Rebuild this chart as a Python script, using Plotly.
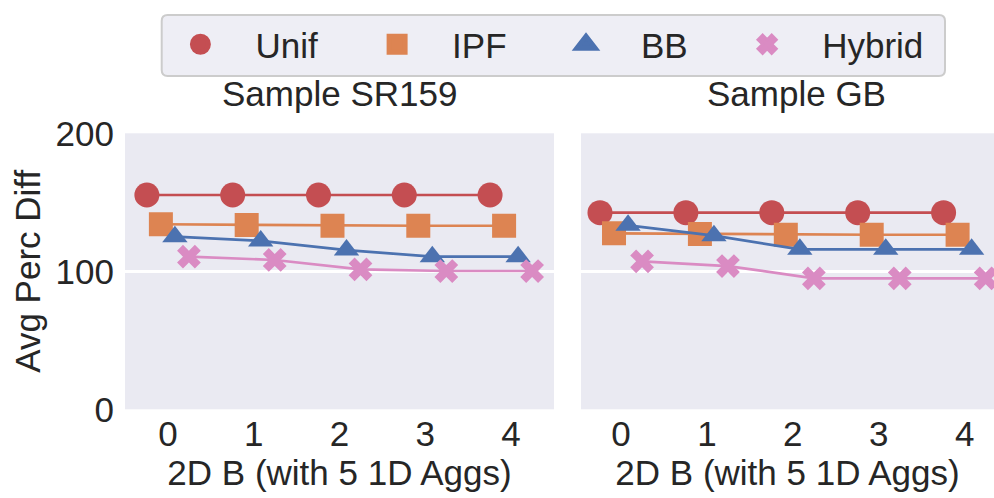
import plotly.graph_objects as go

# Number of 2D aggregates (x axis categories)
budgets = [0, 1, 2, 3, 4]
tick_labels = ["0", "1", "2", "3", "4"]

methods = ["Unif", "IPF", "BB", "Hybrid"]

# Average percent difference, sample SR159
sr159_unif = [155.3, 155.3, 155.3, 155.3, 155.3]
sr159_ipf = [134.1, 133.6, 133.0, 133.0, 133.0]
sr159_bb = [125.1, 122.0, 115.4, 110.6, 110.6]
sr159_hybrid = [110.6, 108.2, 101.4, 100.2, 100.2]

# Average percent difference, sample GB
gb_unif = [142.5, 142.5, 142.5, 142.5, 142.5]
gb_ipf = [127.5, 127.0, 126.5, 126.5, 126.5]
gb_bb = [133.3, 125.8, 115.9, 115.9, 115.9]
gb_hybrid = [107.2, 103.8, 94.9, 94.9, 94.9]

panels = [
    ("Sample SR159", [sr159_unif, sr159_ipf, sr159_bb, sr159_hybrid]),
    ("Sample GB", [gb_unif, gb_ipf, gb_bb, gb_hybrid]),
]

colors = ["#C44E52", "#DD8452", "#4C72B0", "#DA8BC3"]
symbols = ["circle", "square", "triangle-up", "x"]
sizes = [25, 24, 22, 21]
dodge = [-0.245, -0.0817, 0.0817, 0.245]

FONT = "Liberation Sans, Arial, sans-serif"
FS = 35
TXT = "#262626"
W, H = 994, 498

fig = go.Figure()

for p, (title, series) in enumerate(panels):
    xa = "x" if p == 0 else "x2"
    ya = "y" if p == 0 else "y2"
    for i, vals in enumerate(series):
        fig.add_trace(go.Scatter(
            x=[b + dodge[i] for b in budgets], y=vals,
            mode="lines+markers", xaxis=xa, yaxis=ya,
            line=dict(color=colors[i], width=2.7),
            marker=dict(symbol=symbols[i], size=sizes[i], color=colors[i],
                        line=dict(width=0)),
            name=methods[i], showlegend=False,
        ))

# legend entries (markers only)
NB = "\u00a0"
for i, m in enumerate(methods):
    trail = NB * 5 + "\u2006" if i < len(methods) - 1 else ""
    lw = 3 if symbols[i] == "x" else 5
    fig.add_trace(go.Scatter(
        x=[None], y=[None], mode="markers",
        marker=dict(symbol=symbols[i], size=16, color=colors[i],
                    line=dict(width=lw, color=colors[i])),
        name=NB * 3 + "\u2006" + m + trail, showlegend=True,
    ))

left_dom = [125 / W, 554 / W]
right_dom = [581 / W, 1.0]
y_dom = [(H - 409.3) / H, (H - 133.3) / H]

axis_common = dict(
    tickmode="array", tickvals=budgets, ticktext=tick_labels,
    showgrid=False, zeroline=False, showline=False, ticks="",
    tickfont=dict(family=FONT, size=FS, color=TXT),
    ticklabelstandoff=1, automargin=False,
)
xtitle = dict(text="2D B (with 5 1D Aggs)", font=dict(family=FONT, size=FS, color=TXT), standoff=0)

fig.update_layout(
    width=W, height=H,
    margin=dict(l=0, r=0, t=0, b=0, autoexpand=False),
    paper_bgcolor="white", plot_bgcolor="#EAEAF2",
    font=dict(family=FONT, size=FS, color=TXT),
    xaxis=dict(domain=left_dom, range=[-0.5, 4.5], title=xtitle, anchor="y", **axis_common),
    xaxis2=dict(domain=right_dom, range=[-0.466, 4.342], title=xtitle, anchor="y2", **axis_common),
    yaxis=dict(domain=y_dom, range=[0, 200], tickvals=[0, 100, 200],
               showgrid=True, gridcolor="white", gridwidth=2.5,
               zeroline=False, showline=False, ticks="", automargin=False,
               tickfont=dict(family=FONT, size=FS, color=TXT),
               ticklabelstandoff=10,
               title=dict(text="Avg Perc Diff", font=dict(family=FONT, size=FS, color=TXT), standoff=4),
               anchor="x"),
    yaxis2=dict(domain=y_dom, range=[0, 200], tickvals=[0, 100, 200],
                showgrid=True, gridcolor="white", gridwidth=2.5,
                zeroline=False, showline=False, ticks="", showticklabels=False,
                automargin=False, anchor="x2"),
    legend=dict(
        orientation="h", x=180.4 / W, y=1 - 15 / H, xanchor="left", yanchor="top",
        bgcolor="rgba(0,0,0,0)", borderwidth=0,
        font=dict(family=FONT, size=FS, color=TXT),
    ),
    showlegend=True,
)

# legend frame with rounded corners
x0, x1, y0, y1, r = 161.7 / W, 945 / W, 1 - 76 / H, 1 - 15 / H, 6
rx, ry = r / W, r / H
frame = (f"M{x0 + rx},{y0} L{x1 - rx},{y0} Q{x1},{y0} {x1},{y0 + ry} "
         f"L{x1},{y1 - ry} Q{x1},{y1} {x1 - rx},{y1} L{x0 + rx},{y1} "
         f"Q{x0},{y1} {x0},{y1 - ry} L{x0},{y0 + ry} Q{x0},{y0} {x0 + rx},{y0} Z")
fig.add_shape(type="path", path=frame, xref="paper", yref="paper",
              fillcolor="#EEEEF5", line=dict(color="#CCCCCC", width=2), layer="below")

# panel titles
for title, xc in [(panels[0][0], 339.5 / W), (panels[1][0], 796 / W)]:
    fig.add_annotation(text=title, x=xc, y=1 - 93 / H, xref="paper", yref="paper",
                       xanchor="center", yanchor="middle", showarrow=False,
                       font=dict(family=FONT, size=FS, color=TXT))

fig.write_html("out.html")
